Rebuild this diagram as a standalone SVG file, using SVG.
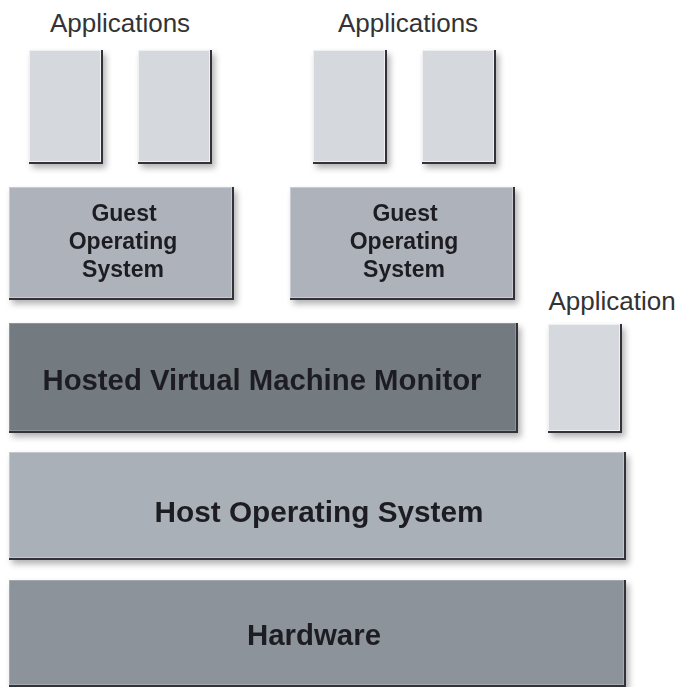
<svg xmlns="http://www.w3.org/2000/svg" width="681" height="687" viewBox="0 0 681 687">
<defs>
<filter id="sh" x="-10%" y="-10%" width="125%" height="130%">
<feDropShadow dx="3" dy="4" stdDeviation="3" flood-color="#000" flood-opacity="0.3"/>
</filter>
</defs>
<style>
.edge{fill:#303338}
.app{fill:#d5d8dd;stroke:#eef0f2;stroke-width:1}
.guest{fill:#adb2bb;stroke:#c8ccd2;stroke-width:1}
.vmm{fill:#737a80;stroke:#8e949a;stroke-width:1}
.host{fill:#aab0b8;stroke:#c4c8cd;stroke-width:1}
.hw{fill:#8c939a;stroke:#a4a9ae;stroke-width:1}
.lbl{font-family:"Liberation Sans",Arial,sans-serif;font-size:26px;fill:#333;text-anchor:middle}
.bt{font-family:"Liberation Sans",Arial,sans-serif;font-weight:bold;fill:#1e1f23;text-anchor:middle}
</style>
<rect width="681" height="687" fill="#fff"/>

<g id="label-apps-1"><text class="lbl" x="120" y="32">Applications</text></g>
<g id="label-apps-2"><text class="lbl" x="408" y="32">Applications</text></g>
<g id="label-app-3"><text class="lbl" x="612" y="310">Application</text></g>

<g id="app1" filter="url(#sh)"><rect class="edge" x="29" y="50" width="74" height="114"/><rect class="app" x="29.5" y="50.5" width="71" height="111"/></g>
<g id="app2" filter="url(#sh)"><rect class="edge" x="138" y="50" width="74" height="114"/><rect class="app" x="138.5" y="50.5" width="71" height="111"/></g>
<g id="app3" filter="url(#sh)"><rect class="edge" x="313" y="50" width="74" height="114"/><rect class="app" x="313.5" y="50.5" width="71" height="111"/></g>
<g id="app4" filter="url(#sh)"><rect class="edge" x="422" y="50" width="74" height="114"/><rect class="app" x="422.5" y="50.5" width="71" height="111"/></g>

<g id="guest1" filter="url(#sh)"><rect class="edge" x="9" y="187" width="225" height="113"/><rect class="guest" x="9.5" y="187.5" width="222" height="110"/>
<text class="bt" font-size="23" x="124" y="221">Guest</text><text class="bt" font-size="23" x="123" y="249">Operating</text><text class="bt" font-size="23" x="123" y="277">System</text></g>
<g id="guest2" filter="url(#sh)"><rect class="edge" x="290" y="187" width="225" height="113"/><rect class="guest" x="290.5" y="187.5" width="222" height="110"/>
<text class="bt" font-size="23" x="405" y="221">Guest</text><text class="bt" font-size="23" x="404" y="249">Operating</text><text class="bt" font-size="23" x="404" y="277">System</text></g>

<g id="vmm" filter="url(#sh)"><rect class="edge" x="9" y="323" width="509" height="110"/><rect class="vmm" x="9.5" y="323.5" width="506" height="107"/>
<text class="bt" font-size="29" x="262" y="390" textLength="439" lengthAdjust="spacingAndGlyphs">Hosted Virtual Machine Monitor</text></g>

<g id="app5" filter="url(#sh)"><rect class="edge" x="548" y="324" width="74" height="109"/><rect class="app" x="548.5" y="324.5" width="71" height="106"/></g>

<g id="host" filter="url(#sh)"><rect class="edge" x="9" y="452" width="617" height="108"/><rect class="host" x="9.5" y="452.5" width="614" height="105"/>
<text class="bt" font-size="29" x="319" y="522" textLength="329" lengthAdjust="spacingAndGlyphs">Host Operating System</text></g>

<g id="hardware" filter="url(#sh)"><rect class="edge" x="9" y="580" width="617" height="107"/><rect class="hw" x="9.5" y="580.5" width="614" height="104"/>
<text class="bt" font-size="29" x="314" y="645" textLength="134" lengthAdjust="spacingAndGlyphs">Hardware</text></g>
</svg>
